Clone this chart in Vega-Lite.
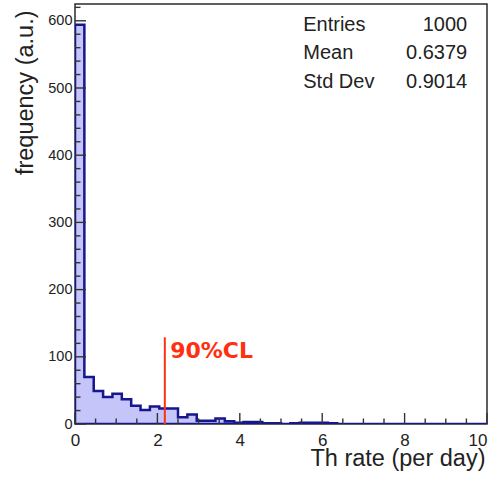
{
  "$schema": "https://vega.github.io/schema/vega-lite/v6.json",
  "width": 412,
  "height": 420,
  "autosize": {"type": "none"},
  "padding": {"left": 75, "top": 4, "right": 13, "bottom": 57},
  "background": "white",
  "config": {
    "view": {"stroke": "#2b2b2b", "strokeWidth": 1.5},
    "axis": {"grid": false, "domain": false, "ticks": false, "zindex": 1, "labelFont": "Liberation Sans", "titleFont": "Liberation Sans", "labelColor": "#222", "titleColor": "#222"}
  },
  "datasets": {
    "hist": [
      {"edge": 0.0, "count": 594},
      {"edge": 0.2273, "count": 70},
      {"edge": 0.4545, "count": 49},
      {"edge": 0.6818, "count": 40},
      {"edge": 0.9091, "count": 45},
      {"edge": 1.1364, "count": 37},
      {"edge": 1.3636, "count": 27},
      {"edge": 1.5909, "count": 21},
      {"edge": 1.8182, "count": 26},
      {"edge": 2.0455, "count": 23},
      {"edge": 2.2727, "count": 23},
      {"edge": 2.5, "count": 10},
      {"edge": 2.7273, "count": 14},
      {"edge": 2.9545, "count": 5},
      {"edge": 3.1818, "count": 5},
      {"edge": 3.4091, "count": 8},
      {"edge": 3.6364, "count": 4},
      {"edge": 3.8636, "count": 2},
      {"edge": 4.0909, "count": 3},
      {"edge": 4.3182, "count": 3},
      {"edge": 4.5455, "count": 1},
      {"edge": 4.7727, "count": 1},
      {"edge": 5.0, "count": 0},
      {"edge": 5.2273, "count": 1},
      {"edge": 5.4545, "count": 2},
      {"edge": 5.6818, "count": 2},
      {"edge": 5.9091, "count": 2},
      {"edge": 6.1364, "count": 1},
      {"edge": 6.3636, "count": 0},
      {"edge": 10.0, "count": 0}
    ],
    "xmajor": [{"v": 0}, {"v": 2}, {"v": 4}, {"v": 6}, {"v": 8}, {"v": 10}],
    "xminor": [{"v": 0.5}, {"v": 1}, {"v": 1.5}, {"v": 2.5}, {"v": 3}, {"v": 3.5}, {"v": 4.5}, {"v": 5}, {"v": 5.5}, {"v": 6.5}, {"v": 7}, {"v": 7.5}, {"v": 8.5}, {"v": 9}, {"v": 9.5}],
    "ymajor": [{"v": 0}, {"v": 100}, {"v": 200}, {"v": 300}, {"v": 400}, {"v": 500}, {"v": 600}],
    "yminor": [{"v": 20}, {"v": 40}, {"v": 60}, {"v": 80}, {"v": 120}, {"v": 140}, {"v": 160}, {"v": 180}, {"v": 220}, {"v": 240}, {"v": 260}, {"v": 280}, {"v": 320}, {"v": 340}, {"v": 360}, {"v": 380}, {"v": 420}, {"v": 440}, {"v": 460}, {"v": 480}, {"v": 520}, {"v": 540}, {"v": 560}, {"v": 580}, {"v": 620}],
    "cl": [{"x": 2.18, "y": 0, "y2": 129, "label": "90%CL", "ty": 97.5, "tx": 2.31}],
    "stats": [
      {"name": "Entries", "value": "1000", "y": 585},
      {"name": "Mean", "value": "0.6379", "y": 542.6},
      {"name": "Std Dev", "value": "0.9014", "y": 499.6}
    ]
  },
  "layer": [
    {
      "data": {"name": "hist"},
      "mark": {"type": "area", "interpolate": "step-after", "fill": "#c5c5fa", "stroke": "#16168f", "strokeWidth": 2.5, "clip": true},
      "encoding": {
        "x": {
          "field": "edge", "type": "quantitative",
          "scale": {"domain": [0, 10], "nice": false, "zero": false},
          "axis": {
            "values": [0, 2, 4, 6, 8, 10],
            "labelOverlap": false,
            "labelFontSize": 17,
            "labelPadding": 8,
            "labelAlign": {"expr": "datum.value === 10 ? 'right' : 'center'"},
            "title": "Th rate (per day)",
            "titleFontSize": 23.5,
            "titleFontWeight": "normal",
            "titleAnchor": null,
            "titleAlign": "right",
            "titleBaseline": "alphabetic",
            "titleX": 410,
            "titleY": 41
          }
        },
        "y": {
          "field": "count", "type": "quantitative",
          "scale": {"domain": [0, 625], "nice": false},
          "axis": {
            "values": [0, 100, 200, 300, 400, 500, 600],
            "labelOverlap": false,
            "labelFontSize": 14.5,
            "labelPadding": 3,
            "title": "frequency (a.u.)",
            "titleFontSize": 23.5,
            "titleFontWeight": "normal",
            "titleAnchor": null,
            "titleAngle": -90,
            "titleAlign": "right",
            "titleBaseline": "alphabetic",
            "titleX": -43,
            "titleY": 6
          }
        }
      }
    },
    {
      "data": {"name": "xmajor"},
      "mark": {"type": "rule", "color": "#333", "strokeWidth": 1.4},
      "encoding": {"x": {"field": "v", "type": "quantitative"}, "y": {"datum": 0, "type": "quantitative"}, "y2": {"datum": 16.4}}
    },
    {
      "data": {"name": "xminor"},
      "mark": {"type": "rule", "color": "#333", "strokeWidth": 1.4},
      "encoding": {"x": {"field": "v", "type": "quantitative"}, "y": {"datum": 0, "type": "quantitative"}, "y2": {"datum": 8.2}}
    },
    {
      "data": {"name": "ymajor"},
      "mark": {"type": "rule", "color": "#333", "strokeWidth": 1.4},
      "encoding": {"y": {"field": "v", "type": "quantitative"}, "x": {"datum": 0, "type": "quantitative"}, "x2": {"datum": 0.267}}
    },
    {
      "data": {"name": "yminor"},
      "mark": {"type": "rule", "color": "#333", "strokeWidth": 1.4},
      "encoding": {"y": {"field": "v", "type": "quantitative"}, "x": {"datum": 0, "type": "quantitative"}, "x2": {"datum": 0.134}}
    },
    {
      "data": {"name": "cl"},
      "mark": {"type": "rule", "color": "#ff3010", "strokeWidth": 2},
      "encoding": {
        "x": {"field": "x", "type": "quantitative"},
        "y": {"field": "y", "type": "quantitative"},
        "y2": {"field": "y2"}
      }
    },
    {
      "data": {"name": "cl"},
      "mark": {"type": "text", "color": "#ff3010", "font": "DejaVu Sans", "fontWeight": "bold", "fontSize": 22, "align": "left", "baseline": "alphabetic"},
      "encoding": {
        "x": {"field": "tx", "type": "quantitative"},
        "y": {"field": "ty", "type": "quantitative"},
        "text": {"field": "label"}
      }
    },
    {
      "data": {"name": "stats"},
      "mark": {"type": "text", "color": "#222", "font": "Liberation Sans", "fontSize": 20, "align": "left", "baseline": "alphabetic"},
      "encoding": {
        "x": {"datum": 5.54, "type": "quantitative"},
        "y": {"field": "y", "type": "quantitative"},
        "text": {"field": "name"}
      }
    },
    {
      "data": {"name": "stats"},
      "mark": {"type": "text", "color": "#222", "font": "Liberation Sans", "fontSize": 20, "align": "right", "baseline": "alphabetic"},
      "encoding": {
        "x": {"datum": 9.52, "type": "quantitative"},
        "y": {"field": "y", "type": "quantitative"},
        "text": {"field": "value"}
      }
    }
  ]
}
